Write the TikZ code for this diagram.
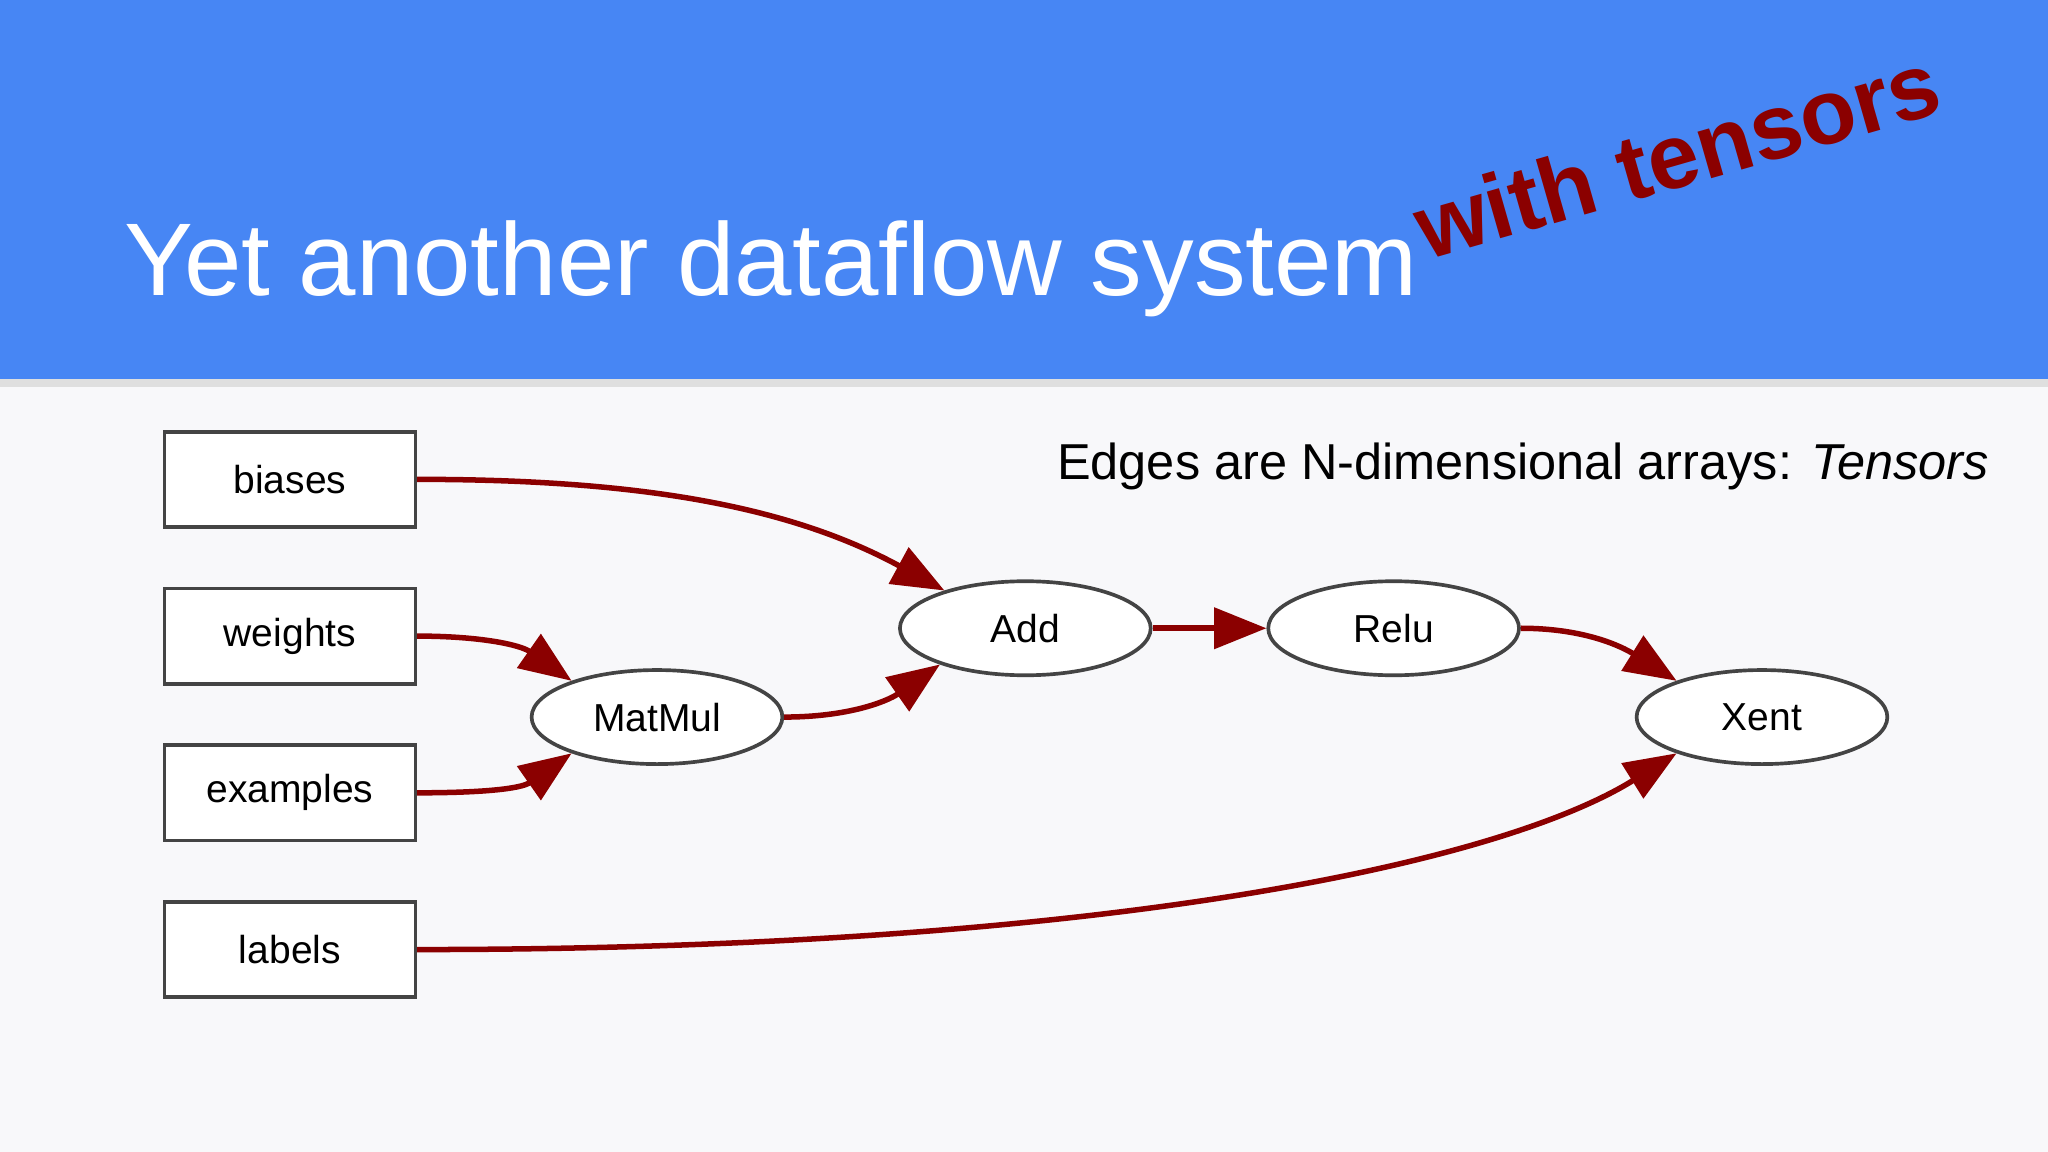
\documentclass[tikz,border=0pt]{standalone}
\usepackage{fontspec}
\setmainfont{Liberation Sans}
\usetikzlibrary{shapes.geometric,arrows.meta}
\definecolor{hdr}{HTML}{4786F4}
\definecolor{bg}{HTML}{F8F8FA}
\definecolor{edge}{HTML}{8B0000}
\definecolor{bord}{HTML}{444444}
\tikzset{
 box/.style={draw=bord,line width=1.6pt,fill=white,minimum width=192*0.02cm,minimum height=73*0.02cm,inner sep=0,font=\fontsize{17}{19}\selectfont},
 op/.style={ellipse,draw=bord,line width=1.6pt,fill=white,minimum width=192*0.02cm,minimum height=72*0.02cm,inner sep=0,font=\fontsize{17}{19}\selectfont},
 flow/.style={draw=edge,line width=2.4pt,-{Triangle[length=0.8cm,width=0.62cm]}}
}
\begin{document}
\begin{tikzpicture}[x=0.02cm,y=-0.02cm]
\fill[bg] (0,0) rectangle (1568,882);
\fill[gray!25] (0,290) rectangle (1568,296);
\fill[hdr] (0,0) rectangle (1568,290);
\useasboundingbox (0,0) rectangle (1568,882);
\node[anchor=base west,text=white,inner sep=0,font=\fontsize{45}{50}\selectfont] (title) at (95,226) {Yet another dataflow system};
\node[rotate=16,text=edge,inner sep=0,font=\fontsize{40}{44}\selectfont\bfseries] (wt) at (1284,118) {with tensors};
\node[anchor=base east,inner sep=0,font=\fontsize{22}{25}\selectfont] (cap) at (1523,367) {Edges are N-dimensional arrays: \textit{Tensors}};
\node[box] (biases) at (222,367) {biases};
\node[box] (weights) at (222,487) {weights};
\node[box] (examples) at (222,607) {examples};
\node[box] (labels) at (222,727) {labels};
\node[op] (matmul) at (503,549) {MatMul};
\node[op] (add) at (785,481) {Add};
\node[op] (relu) at (1067,481) {Relu};
\node[op] (xent) at (1349,549) {Xent};
\draw[flow] (biases.east) .. controls (480,367) and (600,385) .. (add.155);
\draw[flow] (weights.east) to[out=0,in=145] (matmul.157);
\draw[flow] (examples.east) to[out=0,in=215] (matmul.203);
\draw[flow] (matmul.east) to[out=0,in=215] (add.203);
\draw[flow] (add.east) -- (relu.west);
\draw[flow] (relu.east) to[out=0,in=148] (xent.157);
\draw[flow] (labels.east) .. controls (850,727) and (1150,660) .. (xent.203);
\end{tikzpicture}
\end{document}
